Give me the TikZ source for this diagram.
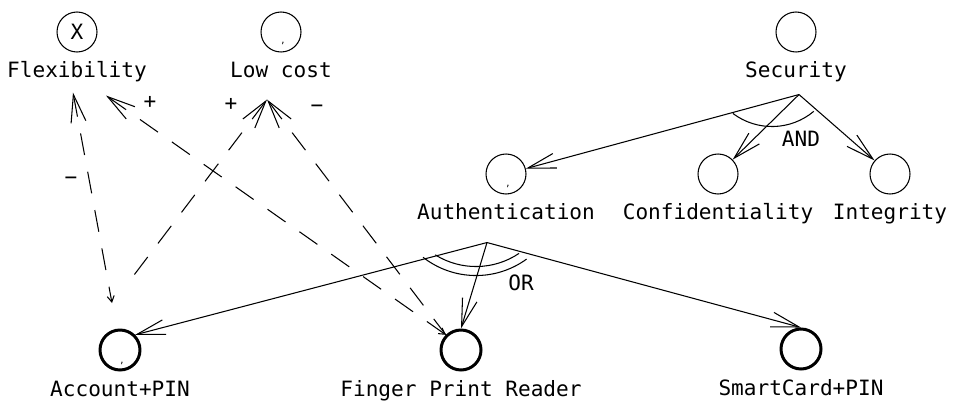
\documentclass[tikz,border=0pt]{standalone}
\usepackage{fontspec}
\setmonofont{DejaVu Sans Mono}
\usetikzlibrary{arrows.meta,positioning,calc}

\begin{document}
\begin{tikzpicture}[
		x=0.02cm, y=0.02cm,
		node distance=0.2cm,
		every node/.style={
				font=\ttfamily\fontsize{12}{14}\selectfont,
				inner sep=1pt
			},
		goal/.style={draw, circle, minimum size=0.8cm, line width=0.6pt},
		task/.style={goal, line width=1.7pt},
		lbl/.style={inner sep=0pt, text height=8.5pt, text depth=2.5pt},
		tinymark/.style={font=\ttfamily\fontsize{5}{5}\selectfont, inner sep=0pt},
		bigv/.tip={Straight Barb[length=0.56cm, width=0.3cm]},
		tinyv/.tip={Straight Barb[length=0.12cm, width=0.14cm]},
		link/.style={line width=0.6pt},
		contrib/.style={link, dash pattern=on 0.44cm off 0.34cm}
	]
	\useasboundingbox (0,0) rectangle (956,403);

	% softgoals
	\node[goal] (flex) at (77,371) {X};
	\node[lbl, below=of flex] (flexlbl) {Flexibility};
	\node[goal] (low) at (281,371) {};
	\node[lbl, below=of low] (lowlbl) {Low cost};
	\node[tinymark] at ($(low)+(2,-11)$) {,};
	\node[goal] (secur) at (796,371) {};
	\node[lbl, below=of secur] (securlbl) {Security};

	\node[goal] (auth) at (506,229) {};
	\node[lbl, below=of auth] (authlbl) {Authentication};
	\node[tinymark] at ($(auth)+(2,-12)$) {,};
	\node[goal] (conf) at (718,229) {};
	\node[lbl, below=of conf] (conflbl) {Confidentiality};
	\node[goal] (integ) at (890,229) {};
	\node[lbl, below=of integ] (integlbl) {Integrity};

	% tasks
	\node[task] (accpin) at (120,53) {};
	\node[lbl, below=of accpin] (accpinlbl) {Account+PIN};
	\node[tinymark] at ($(accpin)+(2,-13)$) {,};
	\node[task] (finger) at (461,53) {};
	\node[lbl, below=of finger] (fingerlbl) {Finger Print Reader};
	\node[task] (smart) at (801,54) {};
	\node[lbl, below=of smart] (smartlbl) {SmartCard+PIN};

	\coordinate (secapex) at ($(securlbl)+(3,-22)$);
	\coordinate (authapex) at ($(authlbl)+(-19,-28)$);
	\coordinate (flexL) at ($(flexlbl)+(-4,-20)$);
	\coordinate (flexR) at ($(flexlbl)+(29,-23)$);
	\coordinate (lowapex) at ($(lowlbl)+(-14,-27)$);
	\coordinate (accendA) at ($(accpin)+(-8,47)$);
	\coordinate (accendB) at ($(accpin)+(8,67)$);

	% AND decomposition
	\draw[link,-bigv] (secapex) -- (auth);
	\draw[link,-bigv] (secapex) -- (conf);
	\draw[link,-bigv] (secapex) -- (integ);
	\draw[link] ($(secapex)+(-27,33)$) ++(233:65) arc[start angle=233, end angle=310, radius=65];
	\node (and) at ($(secapex)+(2,-44)$) {AND};

	% OR decomposition
	\draw[link,-bigv] (authapex) -- (accpin.north east);
	\draw[link,-bigv] (authapex) -- (finger.north);
	\draw[link,-bigv] (authapex) -- (smart.north);
	\draw[link] ($(authapex)+(-11,53)$) ++(238:77) arc[start angle=238, end angle=304, radius=77];
	\draw[link] ($(authapex)+(-11,53)$) ++(232:86) arc[start angle=232, end angle=306, radius=86];
	\node (or) at ($(authapex)+(34,-40)$) {OR};

	% contributions
	\draw[contrib,bigv-tinyv] (flexL) -- (accendA);
	\draw[contrib,bigv-tinyv] (flexR) -- (finger.north west);
	\draw[contrib,bigv-] (lowapex) -- (accendB);
	\draw[contrib,bigv-] (lowapex) -- (finger.north west);
	\node at ($(flexL)+(-2,-88)$) {−};
	\node at ($(flexR)+(44,-7)$) {+};
	\node at ($(lowapex)+(-36,-5)$) {+};
	\node at ($(lowapex)+(50,-9)$) {−};
\end{tikzpicture}
\end{document}
